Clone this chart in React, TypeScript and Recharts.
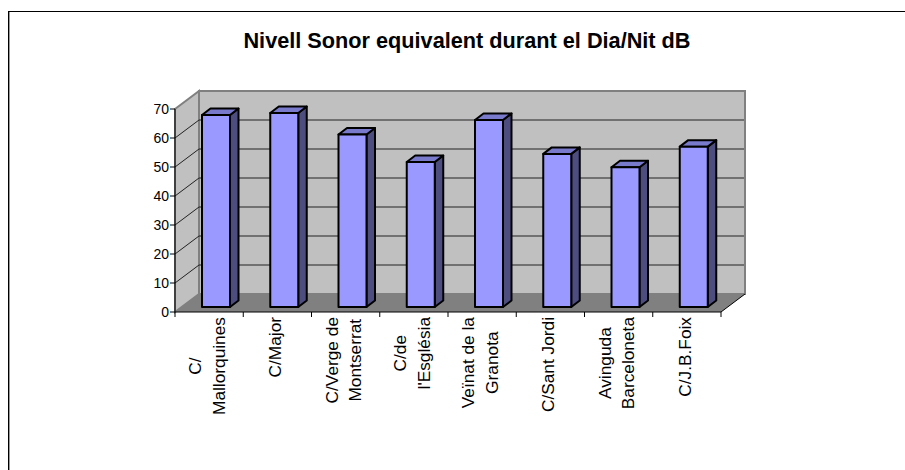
import { BarChart, Bar, XAxis, YAxis, usePlotArea } from 'recharts';

const categories = [
  'C/\nMallorquines',
  'C/Major',
  'C/Verge de\nMontserrat',
  "C/de\nl'Església",
  'Veïnat de la\nGranota',
  'C/Sant Jordi',
  'Avinguda\nBarceloneta',
  'C/J.B.Foix',
];
const levels = [66.2, 66.9, 59.5, 50, 64.5, 52.8, 48.2, 55.3];
const yTicks = [0, 10, 20, 30, 40, 50, 60, 70];
const title = 'Nivell Sonor equivalent durant el Dia/Nit dB';

const data = categories.map((name, i) => ({ name, value: levels[i] }));

const FONT = '"Liberation Sans", Arial, sans-serif';
const LABEL_SIZE = 17.3;
// depth of the fake 3d box
const DEPTH_X = 24;
const DEPTH_Y = 18;

function Walls() {
  const plot = usePlotArea();
  if (!plot) return null;
  const { x, y, width, height } = plot;
  const bottom = y + height;
  const right = x + width;
  return (
    <g>
      <polygon
        points={`${x},${y} ${x + DEPTH_X},${y - DEPTH_Y} ${x + DEPTH_X},${bottom - DEPTH_Y} ${x},${bottom}`}
        fill="#c0c0c0"
        stroke="#808080"
        strokeWidth={2}
      />
      <rect x={x + DEPTH_X} y={y - DEPTH_Y} width={width} height={height} fill="#c0c0c0" stroke="#808080" strokeWidth={2} />
      <polygon
        points={`${x},${bottom} ${x + DEPTH_X},${bottom - DEPTH_Y} ${right + DEPTH_X},${bottom - DEPTH_Y} ${right},${bottom}`}
        fill="#808080"
      />
      <line x1={right} y1={bottom} x2={right + DEPTH_X} y2={bottom - DEPTH_Y} stroke="#000" />
      {yTicks.slice(1, -1).map((t) => {
        const ty = bottom - (height * t) / 70;
        return (
          <g key={t} stroke="#222" strokeWidth={1}>
            <line x1={x} y1={ty} x2={x + DEPTH_X} y2={ty - DEPTH_Y} />
            <line x1={x + DEPTH_X} y1={ty - DEPTH_Y} x2={right + DEPTH_X - 1} y2={ty - DEPTH_Y} />
          </g>
        );
      })}
    </g>
  );
}

function Bar3d(props: any) {
  const { x, y, width, height } = props;
  const left = x + 7;
  const top = y - 5;
  const right = left + width;
  const bottom = top + height;
  const sx = 8.5;
  const sy = 6.5;
  return (
    <g stroke="#000" strokeWidth={2} strokeLinejoin="round">
      <polygon points={`${right},${top} ${right + sx},${top - sy} ${right + sx},${bottom - sy} ${right},${bottom}`} fill="#4d4d80" />
      <polygon points={`${left},${top} ${left + sx},${top - sy} ${right + sx},${top - sy} ${right},${top}`} fill="#7a7acc" />
      <rect x={left} y={top} width={width} height={height} fill="#9999ff" />
    </g>
  );
}

function textWidth(s: string) {
  const ctx = document.createElement('canvas').getContext('2d');
  if (!ctx) return s.length * 8;
  ctx.font = `${LABEL_SIZE}px ${FONT}`;
  return ctx.measureText(s).width;
}

function CategoryTick(props: any) {
  const { x, y, index, payload } = props;
  const band = 546 / categories.length;
  const lines: string[] = String(payload.value).split('\n');
  const block = Math.max(...lines.map(textWidth));
  const cy = y + 5 + block / 2;
  const cx = x - 2;
  const gap = 23.5;
  return (
    <g>
      <line x1={x - band / 2} y1={y} x2={x - band / 2} y2={y + 5} stroke="#000" />
      {index === categories.length - 1 && <line x1={x + band / 2} y1={y} x2={x + band / 2} y2={y + 5} stroke="#000" />}
      {lines.map((line, i) => {
        const lx = cx + (i - (lines.length - 1) / 2) * gap;
        return (
          <text
            key={i}
            x={lx}
            y={cy}
            dy="0.35em"
            textAnchor="middle"
            transform={`rotate(-90 ${lx} ${cy})`}
            fontSize={LABEL_SIZE}
            fontFamily={FONT}
            fill="#000"
          >
            {line}
          </text>
        );
      })}
    </g>
  );
}

export default function App() {
  return (
    <div style={{ position: 'absolute', left: 0, top: 0, width: 905, height: 470, overflow: 'hidden', background: '#fff' }}>
      <div
        style={{
          position: 'absolute',
          left: 8,
          top: 11,
          right: 0,
          bottom: 0,
          borderTop: '1px solid #000',
          borderLeft: '1px solid #000',
          boxShadow: 'inset 1px 0 0 #999',
        }}
      />
      <div style={{ position: 'absolute', left: 0, top: 0 }}>
        <BarChart
          width={905}
          height={470}
          data={data}
          margin={{ top: 109, right: 184, bottom: 98, left: 135 }}
          barSize={28}
        >
          <Walls />
          <text x={467} y={48} textAnchor="middle" fontSize={21.7} fontWeight="bold" fontFamily={FONT} fill="#000">
            {title}
          </text>
          <XAxis
            dataKey="name"
            height={60}
            interval={0}
            tickLine={false}
            tickSize={0}
            axisLine={{ stroke: '#000' }}
            tick={CategoryTick}
            tickMargin={0}
          />
          <YAxis
            width={40}
            domain={[0, 70]}
            ticks={yTicks}
            tickSize={5}
            tickMargin={1}
            axisLine={{ stroke: '#000' }}
            tickLine={{ stroke: '#000' }}
            tick={{ fontSize: 14, fontFamily: FONT, fill: '#000' }}
          />
          <Bar dataKey="value" shape={Bar3d} isAnimationActive={false} />
        </BarChart>
      </div>
    </div>
  );
}
